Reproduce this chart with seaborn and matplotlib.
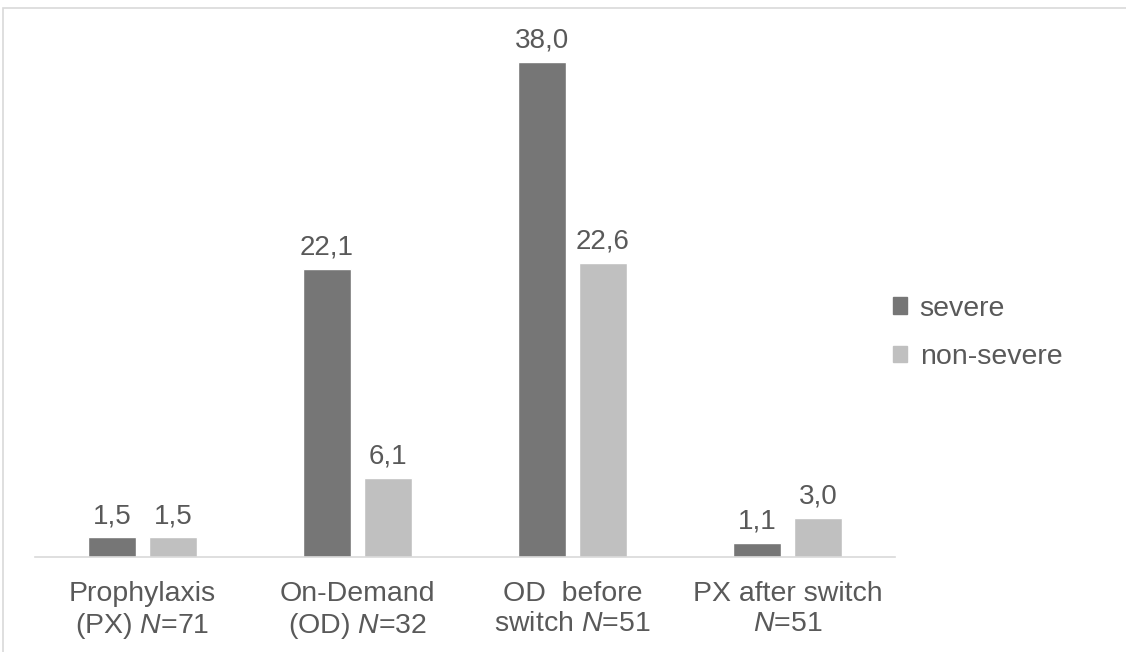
import matplotlib
matplotlib.use("Agg")
import matplotlib.pyplot as plt
import matplotlib.patches as mpatches
import pandas as pd
import seaborn as sns

categories = [
    "Prophylaxis\n(PX) $\\mathit{N}$=71",
    "On-Demand\n(OD) $\\mathit{N}$=32",
    "OD  before\nswitch $\\mathit{N}$=51",
    "PX after switch\n$\\mathit{N}$=51",
]
severe = [1.5, 22.1, 38.0, 1.1]
non_severe = [1.5, 6.1, 22.6, 3.0]
series = ["severe", "non-severe"]

TEXT = "#595959"
palette = {"severe": "#767676", "non-severe": "#c0c0c0"}

df = pd.DataFrame({
    "group": categories * 2,
    "series": [series[0]] * 4 + [series[1]] * 4,
    "value": severe + non_severe,
})

sns.set_style("white")
plt.rcParams["font.family"] = ["Liberation Sans", "DejaVu Sans"]
plt.rcParams["mathtext.fontset"] = "custom"
plt.rcParams["mathtext.rm"] = "Liberation Sans"
plt.rcParams["mathtext.it"] = "Liberation Sans:italic"

fig = plt.figure(figsize=(11.26, 6.52), dpi=100)
W, H = 1126, 652
ax = fig.add_axes([35 / W, (H - 557) / H, 860 / W, (557 - 36) / H])

sns.barplot(data=df, x="group", y="value", hue="series", palette=palette,
            width=0.567, gap=0.213, ax=ax, legend=False, saturation=1)

for cont in ax.containers:
    ax.bar_label(cont, labels=[f"{v:.1f}".replace(".", ",") for v in cont.datavalues],
                 padding=6, fontsize=20, color=TEXT)

ax.set_xlim(-0.5, 3.5)
ax.set_ylim(0, 40)
ax.set_yticks([])
ax.set_xlabel("")
ax.set_ylabel("")
for side in ["top", "right", "left"]:
    ax.spines[side].set_visible(False)
ax.spines["bottom"].set_color("#d9d9d9")
ax.spines["bottom"].set_linewidth(1.2)
ax.tick_params(axis="x", length=0, pad=17, labelsize=20.5, labelcolor=TEXT)
for lbl in ax.get_xticklabels():
    lbl.set_linespacing(1.2)

handles = [mpatches.Patch(color=palette[s], label=s) for s in series]
fig.legend(handles=handles, loc="center left", bbox_to_anchor=(867 / W, (H - 333) / H),
           frameon=False, fontsize=20.5, labelcolor=TEXT, handlelength=0.5,
           handleheight=0.5, handletextpad=0.45, labelspacing=0.8)

# light border around the chart area
fig.patches.append(mpatches.Rectangle((3 / W, -0.1), 1.2, (H - 8) / H + 0.1,
                                      transform=fig.transFigure, fill=False,
                                      edgecolor="#d9d9d9", linewidth=1.2))

fig.savefig("out.png", dpi=100, facecolor="white")
